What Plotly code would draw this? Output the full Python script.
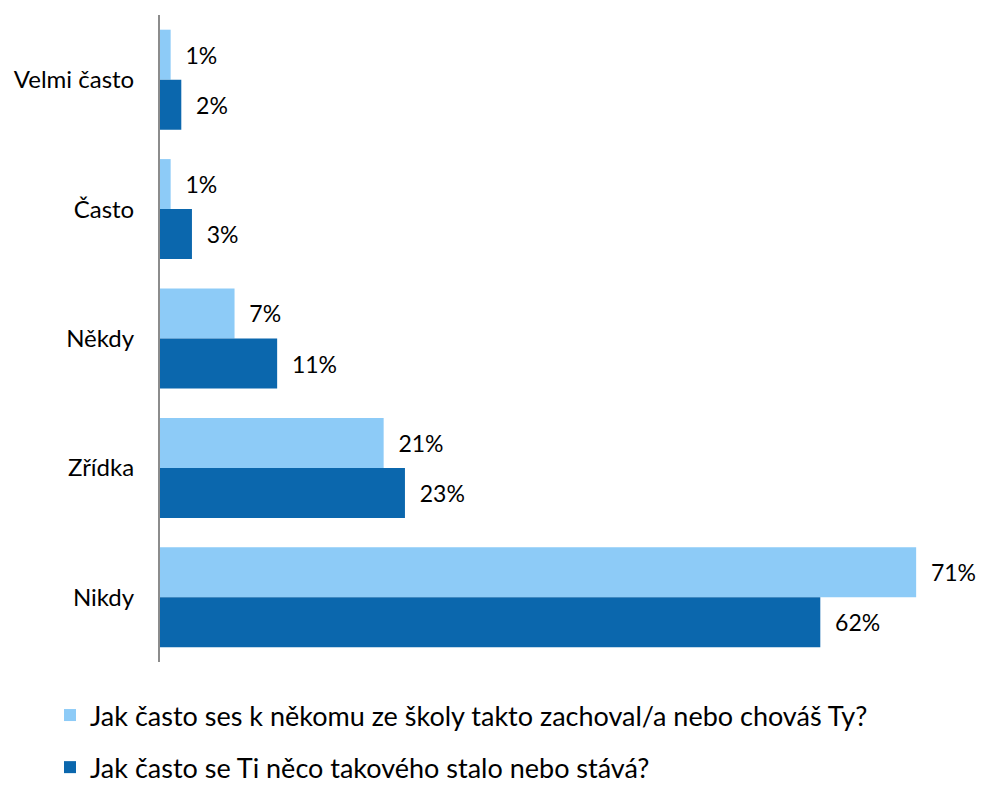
import plotly.graph_objects as go

categories = ["Velmi často", "Často", "Někdy", "Zřídka", "Nikdy"]
series_names = [
    "Jak často ses k někomu ze školy takto zachoval/a nebo chováš Ty?",
    "Jak často se Ti něco takového stalo nebo stává?",
]
values_light = [1, 1, 7, 21, 71]
values_dark = [2, 3, 11, 23, 62]
colors = ["#8DCBF7", "#0B67AD"]

FONT = "Lato, Open Sans, sans-serif"

fig = go.Figure()
for name, vals, col in zip(series_names, [values_light, values_dark], colors):
    fig.add_trace(go.Bar(
        y=categories, x=vals, orientation="h", name=name,
        marker=dict(color=col, line=dict(width=0)),
        text=[f"{v}%" for v in vals],
        texttemplate="  %{text}",
        textposition="outside",
        textfont=dict(size=23, color="black", family=FONT),
        cliponaxis=False,
        legendgroup=name,
    ))

fig.update_layout(
    width=981, height=785,
    margin=dict(l=160, r=21, t=15, b=123, autoexpand=False),
    paper_bgcolor="white", plot_bgcolor="white",
    barmode="group", bargap=0.227, bargroupgap=0,
    font=dict(family=FONT, color="black"),
    showlegend=True,
    legend=dict(
        orientation="v",
        x=-0.1375, xanchor="left", y=-0.0448, yanchor="top",
        font=dict(size=27, family=FONT, color="black"),
        traceorder="grouped", tracegroupgap=14,
        itemwidth=30, bgcolor="rgba(0,0,0,0)",
    ),
)
fig.update_xaxes(range=[0, 800 / 10.65], showticklabels=False, showline=False,
                 showgrid=False, zeroline=False, ticks="", automargin=False)
fig.update_yaxes(
    autorange="reversed", showline=True, linecolor="#8C8C8C", linewidth=2,
    showgrid=False, ticks="", ticklabelstandoff=19, automargin=False,
    tickfont=dict(size=24, family=FONT, color="black"),
)

fig.write_html(
    "out.html",
    config={"displayModeBar": False},
    post_script="document.body.style.margin='0';document.body.style.overflow='hidden';",
)
